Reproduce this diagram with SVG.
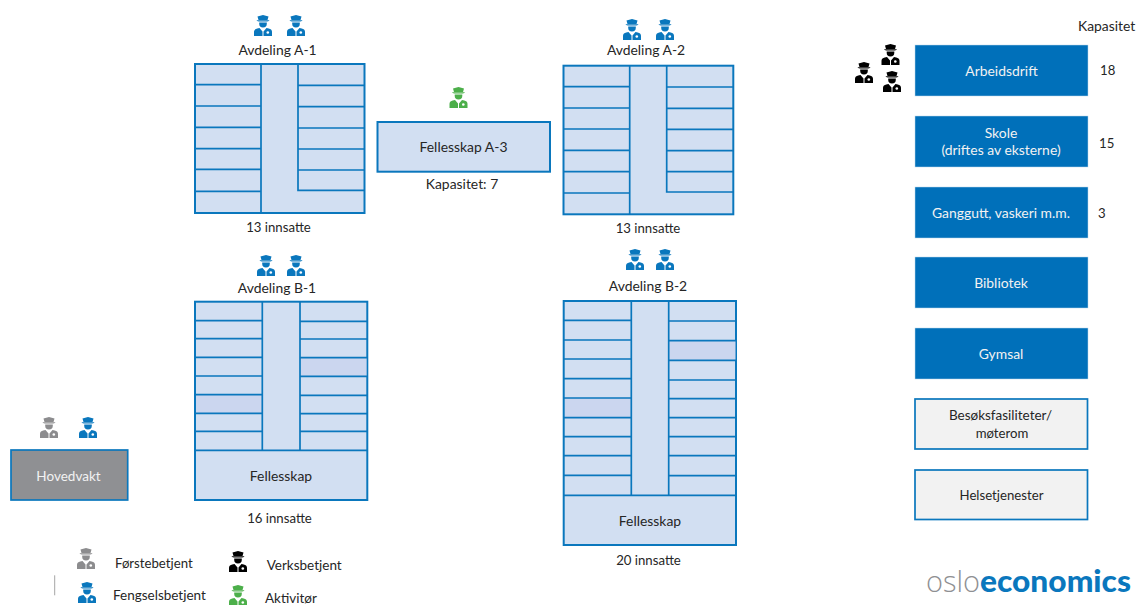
<svg xmlns="http://www.w3.org/2000/svg" width="1137" height="605" viewBox="0 0 1137 605">
<style>
text{font-family:"Lato","Liberation Sans",sans-serif;font-size:13.900px;fill:#262626}
.s{font-size:13.200px}
.n{font-size:13.500px}
.m{text-anchor:middle}
.w{fill:#f2f2f2}
.r{fill:#d2dff2;stroke:#0a77bd;stroke-width:2}
.d{fill:#cbd6ef}
.l{fill:none;stroke:#0a77bd;stroke-width:1.700}
.b{fill:#0070ba;stroke:#bcd7ea;stroke-width:.5}
.g{fill:#f2f2f2;stroke:#0a77bd;stroke-width:1.700}
.blue{fill:#0a77bd}.gray{fill:#8c8c8e}.black{fill:#000}.green{fill:#4caf4a}
</style>
<defs>
<g id="cop">
<path d="M3.500 1.500 9 0l5.500 1.500-1 3.500h-9z"/>
<path d="M2.500 5.200h13c-.8 1-2 1.300-3 1.300h-7c-1 0-2.200-.3-3-1.300z"/>
<path d="M5.200 7.500h7.600v1.200a3.800 3.800 0 0 1-7.600 0z"/>
<path d="M0 21v-4.200c0-1.800 1.500-3 3.200-3.300l2.300-.5 3 3.500V21z"/>
<path d="M9.500 21v-4.500l3-3.500 2.300.5c1.700.3 3.200 1.500 3.200 3.300V21z"/>
<circle cx="13.800" cy="17.500" r="1.300" fill="#fff"/>
</g>
</defs>

<g id="avdeling-a1">
<rect class="r" x="195" y="64" width="169.500" height="149"/>
<path class="l" d="M261 64V213M195 84.700H261M195 106H261M195 127.300H261M195 148.700H261M195 169.300H261M195 191.300H261M298 64V190.300H364.500M298 85.300H364.500M298 106.700H364.500M298 128H364.500M298 149H364.500M298 170H364.500"/>
<use href="#cop" class="blue" x="254" y="15"/><use href="#cop" class="blue" x="287" y="15"/>
<text class="m" x="277.500" y="55">Avdeling A-1</text>
<text class="m s" x="278.500" y="232">13 innsatte</text>
</g>

<g id="fellesskap-a3">
<rect class="r" x="377.500" y="122" width="172.500" height="49.700"/>
<use href="#cop" class="green" x="449.500" y="87"/>
<text class="m" x="463.500" y="152">Fellesskap A-3</text>
<text class="m" x="462" y="189">Kapasitet: 7</text>
</g>

<g id="avdeling-a2">
<rect class="r" x="563.500" y="65.700" width="169.800" height="148.600"/>
<path class="l" d="M629.700 65.700V214.300M563.500 86.700H629.700M563.500 108H629.700M563.500 129H629.700M563.500 150.300H629.700M563.500 171.700H629.700M563.500 193H629.700M666.700 65.700V192H733.300M666.700 87H733.300M666.700 108.300H733.300M666.700 129.300H733.300M666.700 150.700H733.300M666.700 171.700H733.300"/>
<use href="#cop" class="blue" x="623" y="19"/><use href="#cop" class="blue" x="656" y="19"/>
<text class="m" x="646" y="55">Avdeling A-2</text>
<text class="m s" x="648" y="233">13 innsatte</text>
</g>

<g id="avdeling-b1">
<rect class="r" x="195" y="301.700" width="172.300" height="198.300"/>
<rect class="d" x="196" y="395" width="66" height="18"/>
<rect class="d" x="300.500" y="358" width="66" height="18"/>
<path class="l" d="M195 450.300H367.300M262.300 301.700V450.300M300 301.700V450.300M195 320.700H262.300M195 338.700H262.300M195 357.300H262.300M195 376H262.300M195 394.700H262.300M195 413.300H262.300M195 431.300H262.300M300 321.300H367.300M300 339H367.300M300 357.700H367.300M300 376.300H367.300M300 395.300H367.300M300 413.700H367.300M300 431.300H367.300"/>
<use href="#cop" class="blue" x="257" y="255"/><use href="#cop" class="blue" x="287" y="255"/>
<text class="m" x="277" y="293">Avdeling B-1</text>
<text class="m" x="281" y="481">Fellesskap</text>
<text class="m s" x="279.500" y="523">16 innsatte</text>
</g>

<g id="avdeling-b2">
<rect class="r" x="563.700" y="301" width="172.300" height="244"/>
<rect class="d" x="565" y="398" width="66" height="19.500"/>
<rect class="d" x="669.500" y="341" width="66" height="19"/>
<path class="l" d="M563.700 495.300H736M631.300 301V495.300M668.700 301V495.300M563.700 320.300H631.300M563.700 340H631.300M563.700 359H631.300M563.700 378.700H631.300M563.700 398H631.300M563.700 417.700H631.300M563.700 436.700H631.300M563.700 455.700H631.300M563.700 475.300H631.300M668.700 321H736M668.700 340.700H736M668.700 360.300H736M668.700 380H736M668.700 398.700H736M668.700 417.700H736M668.700 436.700H736M668.700 455.700H736M668.700 475.700H736"/>
<use href="#cop" class="blue" x="626" y="249"/><use href="#cop" class="blue" x="656" y="249"/>
<text class="m" x="648" y="291">Avdeling B-2</text>
<text class="m" x="650" y="526">Fellesskap</text>
<text class="m s" x="648.500" y="565">20 innsatte</text>
</g>

<g id="hovedvakt">
<rect x="11" y="450" width="116.700" height="50" fill="#8f9093" stroke="#0a77bd" stroke-width="1.700"/>
<use href="#cop" class="gray" x="40" y="417"/><use href="#cop" class="blue" x="79" y="417"/>
<text class="m w n" x="68.500" y="481">Hovedvakt</text>
</g>

<g id="arbeidsdrift">
<rect class="b" x="915" y="45" width="173" height="51"/>
<use href="#cop" class="black" x="881.500" y="44"/><use href="#cop" class="black" x="855" y="62"/><use href="#cop" class="black" x="883" y="71"/>
<text class="m w" x="1001.500" y="76">Arbeidsdrift</text>
<text class="s" x="1100" y="75">18</text>
</g>
<g id="skole">
<rect class="b" x="915" y="116" width="173" height="51"/>
<text class="m w" x="1001" y="138">Skole</text>
<text class="m w" x="1001" y="155">(driftes av eksterne)</text>
<text class="s" x="1099" y="148">15</text>
</g>
<g id="ganggutt">
<rect class="b" x="915" y="187" width="173" height="51"/>
<text class="m w" x="1001" y="218">Ganggutt, vaskeri m.m.</text>
<text class="s" x="1098" y="218">3</text>
</g>
<g id="bibliotek">
<rect class="b" x="915" y="257" width="173" height="51"/>
<text class="m w" x="1001" y="288">Bibliotek</text>
</g>
<g id="gymsal">
<rect class="b" x="915" y="328" width="173" height="51"/>
<text class="m w" x="1001" y="359">Gymsal</text>
</g>
<g id="besok">
<rect class="g" x="915" y="399" width="172.500" height="50"/>
<text class="m n" x="1000.500" y="420">Besøksfasiliteter/</text>
<text class="m s" x="1002" y="438">møterom</text>
</g>
<g id="helse">
<rect class="g" x="915" y="470" width="172.500" height="49.500"/>
<text class="m s" x="1001.500" y="500">Helsetjenester</text>
</g>
<text id="kapasitet" x="1078" y="31">Kapasitet</text>

<g id="legend">
<path d="M54.700 575.300V595.300" stroke="#a6a6a6" stroke-width="1"/>
<use href="#cop" class="gray" x="77" y="548"/><text class="s" x="115" y="568">Førstebetjent</text>
<use href="#cop" class="black" x="229" y="551"/><text class="n" x="266.700" y="570">Verksbetjent</text>
<use href="#cop" class="blue" x="78" y="582"/><text class="n" x="113" y="600">Fengselsbetjent</text>
<use href="#cop" class="green" x="229" y="585"/><text class="n" x="265" y="603">Aktivitør</text>
</g>

<g id="logo">
<text x="926" y="592" style="font-family:'Open Sans',sans-serif;font-size:29px;font-weight:300;fill:#8f9093" textLength="54" lengthAdjust="spacingAndGlyphs">oslo</text>
<text x="980" y="592" style="font-family:'Lato',sans-serif;font-size:30px;font-weight:900;fill:#0a77bd" textLength="151" lengthAdjust="spacingAndGlyphs">economics</text>
</g>
</svg>
